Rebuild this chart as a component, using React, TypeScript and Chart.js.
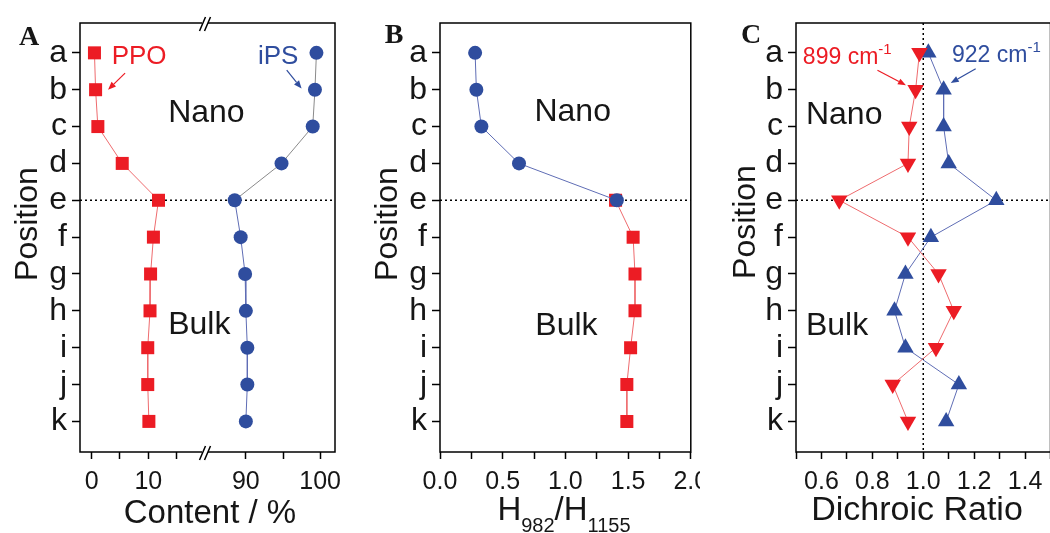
import React, { useEffect, useRef } from 'react';
import { Chart, registerables } from 'chart.js';

Chart.register(...registerables);

// ---------- data ----------
const positions = ['a', 'b', 'c', 'd', 'e', 'f', 'g', 'h', 'i', 'j', 'k'];

// Panel A: content (%)
const ppoContent = [0.5, 0.7, 1.1, 5.4, 11.8, 10.9, 10.4, 10.3, 9.9, 9.9, 10.1];
const ipsContent = [99.5, 99.3, 99.0, 94.8, 88.5, 89.3, 89.9, 90.0, 90.2, 90.2, 90.0];
const contentTicksLow = [0, 5, 10, 15];
const contentTicksHigh = [90, 95, 100];
const contentLabels = [0, 10, 90, 100];

// Panel B: H982/H1155
const nanoPositions = ['a', 'b', 'c', 'd', 'e'];
const heightRatioNano = [0.28, 0.29, 0.33, 0.63, 1.41];
const bulkPositions = ['e', 'f', 'g', 'h', 'i', 'j', 'k'];
const heightRatioBulk = [1.4, 1.54, 1.555, 1.555, 1.52, 1.49, 1.49];
const ratioTicks = [0, 0.25, 0.5, 0.75, 1, 1.25, 1.5, 1.75, 2];
const ratioLabels = [0, 0.5, 1, 1.5, 2];

// Panel C: dichroic ratio
const dichroic899 = [0.985, 0.97, 0.945, 0.94, 0.67, 0.94, 1.06, 1.12, 1.05, 0.88, 0.94];
const dichroic922 = [1.02, 1.08, 1.08, 1.1, 1.287, 1.03, 0.93, 0.887, 0.93, 1.14, 1.09];
const dichroicTicks = [0.5, 0.6, 0.7, 0.8, 0.9, 1.0, 1.1, 1.2, 1.3, 1.4, 1.5];
const dichroicLabels = [0.6, 0.8, 1.0, 1.2, 1.4];

// ---------- style ----------
const RED = '#ec1c24';
const BLUE = '#2f4d9e';
const RED_LINE = '#ee6b6e';
const BLUE_LINE = '#5f6db5';
const GRAY_LINE = '#8a8a8a';
const INK = '#161616';
const FONT = '"Liberation Sans", Arial, sans-serif';
const SERIF = '"Liberation Serif", "Times New Roman", serif';
const Y_MIN = -0.81;
const Y_MAX = 10.83;
const X_AXIS_H = 81;

type Run = { t: string; size: number; dy?: number; bold?: boolean; serif?: boolean };
type Label = {
  runs: Run[];
  x: number;
  y: number;
  xAxis?: string;
  yAxis?: string;
  align?: 'left' | 'center';
  color: string;
  rotate?: boolean;
};
type Arrow = { x1: number; y1: number; x2: number; y2: number; xAxis: string; color: string };
type Decor = {
  labels: Label[];
  arrows?: Arrow[];
  hLines?: { y: number }[];
  vLines?: { x: number; xAxis: string }[];
  breakAxis?: string;
};

const fontOf = (r: Run) => `${r.bold ? 'bold ' : ''}${r.size}px ${r.serif ? SERIF : FONT}`;

function drawLabel(chart: any, l: Label) {
  const ctx = chart.ctx as CanvasRenderingContext2D;
  const px = l.xAxis ? chart.scales[l.xAxis].getPixelForValue(l.x) : l.x;
  const py = l.yAxis ? chart.scales[l.yAxis].getPixelForValue(l.y) : l.y;
  ctx.save();
  ctx.translate(px, py);
  if (l.rotate) ctx.rotate(-Math.PI / 2);
  ctx.fillStyle = l.color;
  ctx.textBaseline = 'alphabetic';
  ctx.textAlign = 'left';
  let total = 0;
  for (const r of l.runs) {
    ctx.font = fontOf(r);
    total += ctx.measureText(r.t).width;
  }
  let cx = l.align === 'center' ? -total / 2 : 0;
  for (const r of l.runs) {
    ctx.font = fontOf(r);
    ctx.fillText(r.t, cx, r.dy ?? 0);
    cx += ctx.measureText(r.t).width;
  }
  ctx.restore();
}

function drawArrow(chart: any, a: Arrow) {
  const ctx = chart.ctx as CanvasRenderingContext2D;
  const xs = chart.scales[a.xAxis];
  const ys = chart.scales.y;
  const x1 = xs.getPixelForValue(a.x1);
  const y1 = ys.getPixelForValue(a.y1);
  const x2 = xs.getPixelForValue(a.x2);
  const y2 = ys.getPixelForValue(a.y2);
  const ang = Math.atan2(y2 - y1, x2 - x1);
  const head = 8;
  const hw = 3.2;
  const bx = x2 - Math.cos(ang) * head;
  const by = y2 - Math.sin(ang) * head;
  ctx.save();
  ctx.strokeStyle = a.color;
  ctx.fillStyle = a.color;
  ctx.lineWidth = 1.2;
  ctx.beginPath();
  ctx.moveTo(x1, y1);
  ctx.lineTo(bx, by);
  ctx.stroke();
  ctx.beginPath();
  ctx.moveTo(x2, y2);
  ctx.lineTo(bx + Math.sin(ang) * hw, by - Math.cos(ang) * hw);
  ctx.lineTo(bx - Math.sin(ang) * hw, by + Math.cos(ang) * hw);
  ctx.closePath();
  ctx.fill();
  ctx.restore();
}

function makeDecor(cfg: Decor) {
  return {
    id: 'decor',
    beforeDatasetsDraw(chart: any) {
      const ctx = chart.ctx as CanvasRenderingContext2D;
      const area = chart.chartArea;
      ctx.save();
      ctx.strokeStyle = '#000';
      ctx.lineWidth = 1.5;
      ctx.setLineDash([2, 3]);
      for (const h of cfg.hLines ?? []) {
        const y = chart.scales.y.getPixelForValue(h.y);
        ctx.beginPath();
        ctx.moveTo(area.left, y);
        ctx.lineTo(area.right, y);
        ctx.stroke();
      }
      for (const v of cfg.vLines ?? []) {
        const x = chart.scales[v.xAxis].getPixelForValue(v.x);
        ctx.beginPath();
        ctx.moveTo(x, area.top);
        ctx.lineTo(x, area.bottom);
        ctx.stroke();
      }
      ctx.restore();
    },
    afterDraw(chart: any) {
      const ctx = chart.ctx as CanvasRenderingContext2D;
      const area = chart.chartArea;
      ctx.save();
      ctx.strokeStyle = '#000';
      ctx.lineWidth = 1.5;
      ctx.strokeRect(area.left, area.top, area.right - area.left, area.bottom - area.top);
      if (cfg.breakAxis) {
        const bx = chart.scales[cfg.breakAxis].right;
        for (const yy of [area.top, area.bottom]) {
          ctx.fillStyle = '#fff';
          ctx.fillRect(bx - 3, yy - 3, 6, 6);
          ctx.beginPath();
          for (const off of [-2.5, 2.5]) {
            ctx.moveTo(bx + off - 3, yy + 8);
            ctx.lineTo(bx + off + 3, yy - 6);
          }
          ctx.stroke();
        }
      }
      ctx.restore();
      for (const a of cfg.arrows ?? []) drawArrow(chart, a);
      for (const l of cfg.labels) drawLabel(chart, l);
    },
  };
}

// ---------- axes ----------
const yAxis = (width: number) => ({
  type: 'linear',
  position: 'left',
  reverse: true,
  min: Y_MIN,
  max: Y_MAX,
  afterBuildTicks: (s: any) => {
    s.ticks = positions.map((_, i) => ({ value: i }));
  },
  afterFit: (s: any) => {
    s.width = width;
    s.paddingTop = 0;
    s.paddingBottom = 0;
  },
  ticks: {
    autoSkip: false,
    padding: 5,
    color: INK,
    font: { family: FONT, size: 32 },
    callback: (v: number) => positions[v] ?? '',
  },
  grid: { drawOnChartArea: false, drawTicks: true, tickLength: 8, tickWidth: 1.5, tickColor: '#000' },
  border: { display: false },
});

const xAxis = (
  min: number,
  max: number,
  tickVals: number[],
  labels: number[],
  fmt: (v: number) => string,
  extra: any = {}
) => ({
  type: 'linear',
  position: 'bottom',
  min,
  max,
  ...extra,
  afterBuildTicks: (s: any) => {
    s.ticks = tickVals.map((v) => ({ value: v }));
  },
  afterFit: (s: any) => {
    s.height = X_AXIS_H;
    s.paddingLeft = 0;
    s.paddingRight = 0;
  },
  ticks: {
    autoSkip: false,
    maxRotation: 0,
    minRotation: 0,
    padding: 8,
    color: INK,
    font: { family: FONT, size: 25 },
    callback: (v: number) => (labels.includes(v) ? fmt(v) : ''),
  },
  grid: { drawOnChartArea: false, drawTicks: true, tickLength: 7, tickWidth: 1.5, tickColor: '#000' },
  border: { display: false },
});

const baseOptions = (padding: any, scales: any) => ({
  responsive: false,
  maintainAspectRatio: false,
  animation: false,
  events: [],
  layout: { padding },
  plugins: { legend: { display: false }, tooltip: { enabled: false } },
  elements: { line: { tension: 0 } },
  scales,
});

const pts = (vals: number[], pos: string[] = positions) =>
  vals.map((v, i) => ({ x: v, y: positions.indexOf(pos[i]) }));

const textRun = (t: string, size: number, extra: Partial<Run> = {}): Run => ({ t, size, ...extra });

// ---------- panel configs ----------
function configA() {
  return {
    type: 'scatter',
    data: {
      datasets: [
        {
          label: 'PPO',
          data: pts(ppoContent),
          xAxisID: 'xLow',
          yAxisID: 'y',
          showLine: true,
          borderColor: RED_LINE,
          borderWidth: 1,
          pointStyle: 'rect',
          pointRadius: 9.2,
          pointBackgroundColor: RED,
          pointBorderWidth: 0,
        },
        {
          label: 'iPS',
          data: pts(ipsContent),
          xAxisID: 'xHigh',
          yAxisID: 'y',
          showLine: true,
          borderColor: BLUE_LINE,
          borderWidth: 1,
          segment: { borderColor: (c: any) => (c.p1DataIndex <= 4 ? GRAY_LINE : BLUE_LINE) },
          pointStyle: 'circle',
          pointRadius: 7,
          pointBackgroundColor: BLUE,
          pointBorderWidth: 0,
        },
      ],
    },
    options: baseOptions(
      { top: 23, right: 10, left: 0, bottom: 0 },
      {
        y: yAxis(80),
        xLow: xAxis(-2.05, 20, contentTicksLow, contentLabels, (v) => String(v), { stack: 'content', stackWeight: 125 }),
        xHigh: xAxis(84.5, 102, contentTicksHigh, contentLabels, (v) => String(v), { stack: 'content', stackWeight: 130 }),
      }
    ),
    plugins: [
      makeDecor({
        breakAxis: 'xLow',
        hLines: [{ y: 4 }],
        arrows: [
          { x1: 5.9, y1: 0.55, x2: 2.9, y2: 1.0, xAxis: 'xLow', color: RED },
          { x1: 95.5, y1: 0.47, x2: 97.5, y2: 0.97, xAxis: 'xHigh', color: BLUE },
        ],
        labels: [
          { runs: [textRun('A', 28, { bold: true, serif: true })], x: 29, y: 45, align: 'center', color: INK },
          { runs: [textRun('Position', 32)], x: 37, y: 224, align: 'center', rotate: true, color: INK },
          { runs: [textRun('Content / %', 33)], x: 210, y: 523, align: 'center', color: INK },
          { runs: [textRun('Nano', 32)], x: 13.5, y: 1.88, xAxis: 'xLow', yAxis: 'y', color: INK },
          { runs: [textRun('Bulk', 32)], x: 13.5, y: 7.62, xAxis: 'xLow', yAxis: 'y', color: INK },
          { runs: [textRun('PPO', 26)], x: 3.54, y: 0.29, xAxis: 'xLow', yAxis: 'y', color: RED },
          { runs: [textRun('iPS', 26)], x: 91.63, y: 0.29, xAxis: 'xHigh', yAxis: 'y', color: BLUE },
        ],
      }),
    ],
  };
}

function configB() {
  return {
    type: 'scatter',
    data: {
      datasets: [
        {
          label: 'Nano',
          data: pts(heightRatioNano, nanoPositions),
          xAxisID: 'x',
          yAxisID: 'y',
          showLine: true,
          borderColor: BLUE_LINE,
          borderWidth: 1,
          pointStyle: 'circle',
          pointRadius: 7,
          pointBackgroundColor: BLUE,
          pointBorderWidth: 0,
        },
        {
          label: 'Bulk',
          data: pts(heightRatioBulk, bulkPositions),
          xAxisID: 'x',
          yAxisID: 'y',
          showLine: true,
          borderColor: RED_LINE,
          borderWidth: 1,
          pointStyle: 'rect',
          pointRadius: 9.2,
          pointBackgroundColor: RED,
          pointBorderWidth: 0,
        },
      ],
    },
    options: baseOptions(
      { top: 23, right: 5, left: 0, bottom: 0 },
      {
        y: yAxis(95),
        x: xAxis(0, 2, ratioTicks, ratioLabels, (v) => v.toFixed(1)),
      }
    ),
    plugins: [
      makeDecor({
        hLines: [{ y: 4 }],
        labels: [
          { runs: [textRun('B', 28, { bold: true, serif: true })], x: 49, y: 43, align: 'center', color: INK },
          { runs: [textRun('Position', 32)], x: 52, y: 224, align: 'center', rotate: true, color: INK },
          {
            runs: [
              textRun('H', 33),
              textRun('982', 20, { dy: 12 }),
              textRun('/H', 33),
              textRun('1155', 20, { dy: 12 }),
            ],
            x: 219,
            y: 520,
            align: 'center',
            color: INK,
          },
          { runs: [textRun('Nano', 32)], x: 0.753, y: 1.85, xAxis: 'x', yAxis: 'y', color: INK },
          { runs: [textRun('Bulk', 32)], x: 0.76, y: 7.66, xAxis: 'x', yAxis: 'y', color: INK },
        ],
      }),
    ],
  };
}

function configC() {
  return {
    type: 'scatter',
    data: {
      datasets: [
        {
          label: '899 cm-1',
          data: pts(dichroic899),
          xAxisID: 'x',
          yAxisID: 'y',
          showLine: true,
          borderColor: RED_LINE,
          borderWidth: 1,
          pointStyle: 'triangle',
          pointRotation: 180,
          pointRadius: 9.5,
          pointBackgroundColor: RED,
          pointBorderWidth: 0,
        },
        {
          label: '922 cm-1',
          data: pts(dichroic922),
          xAxisID: 'x',
          yAxisID: 'y',
          showLine: true,
          borderColor: BLUE_LINE,
          borderWidth: 1,
          pointStyle: 'triangle',
          pointRadius: 9.5,
          pointBackgroundColor: BLUE,
          pointBorderWidth: 0,
        },
      ],
    },
    options: baseOptions(
      { top: 23, right: 8, left: 0, bottom: 0 },
      {
        y: yAxis(96),
        x: xAxis(0.5, 1.5, dichroicTicks, dichroicLabels, (v) => v.toFixed(1)),
      }
    ),
    plugins: [
      makeDecor({
        hLines: [{ y: 4 }],
        vLines: [{ x: 1.0, xAxis: 'x' }],
        arrows: [
          { x1: 0.82, y1: 0.47, x2: 0.932, y2: 0.88, xAxis: 'x', color: RED },
          { x1: 1.206, y1: 0.43, x2: 1.108, y2: 0.82, xAxis: 'x', color: BLUE },
        ],
        labels: [
          { runs: [textRun('C', 28, { bold: true, serif: true })], x: 51, y: 43, align: 'center', color: INK },
          { runs: [textRun('Position', 32)], x: 55, y: 222, align: 'center', rotate: true, color: INK },
          { runs: [textRun('Dichroic Ratio', 34)], x: 217, y: 520, align: 'center', color: INK },
          { runs: [textRun('Nano', 32)], x: 0.539, y: 1.93, xAxis: 'x', yAxis: 'y', color: INK },
          { runs: [textRun('Bulk', 32)], x: 0.539, y: 7.66, xAxis: 'x', yAxis: 'y', color: INK },
          {
            runs: [textRun('899 cm', 23), textRun('-1', 15, { dy: -10 })],
            x: 0.527,
            y: 0.29,
            xAxis: 'x',
            yAxis: 'y',
            color: RED,
          },
          {
            runs: [textRun('922 cm', 23), textRun('-1', 15, { dy: -10 })],
            x: 1.113,
            y: 0.26,
            xAxis: 'x',
            yAxis: 'y',
            color: BLUE,
          },
        ],
      }),
    ],
  };
}

function Panel({ left, width, build }: { left: number; width: number; build: () => any }) {
  const ref = useRef<HTMLCanvasElement>(null);
  useEffect(() => {
    if (!ref.current) return;
    const chart = new Chart(ref.current, build());
    return () => chart.destroy();
  }, [build]);
  return (
    <canvas
      ref={ref}
      width={width}
      height={533}
      style={{ position: 'absolute', left, top: 0, width, height: 533 }}
    />
  );
}

export default function App() {
  return (
    <div
      style={{
        position: 'absolute',
        left: 0,
        top: 0,
        width: 1050,
        height: 533,
        overflow: 'hidden',
        background: '#fff',
      }}
    >
      <Panel left={0} width={345} build={configA} />
      <Panel left={345} width={355} build={configB} />
      <Panel left={700} width={360} build={configC} />
    </div>
  );
}
